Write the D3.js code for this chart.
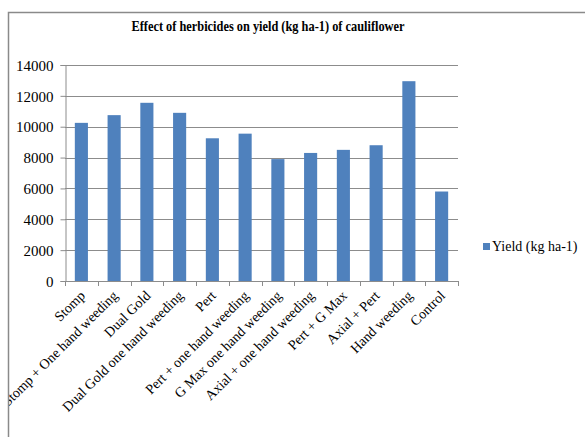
<!DOCTYPE html>
<html>
<head>
<meta charset="utf-8">
<script src="https://cdn.jsdelivr.net/npm/d3@7"></script>
<style>
  html, body { margin: 0; padding: 0; background: #fff; }
  svg { display: block; }
  svg text { font-family: "Liberation Serif", "Times New Roman", serif !important; fill: #000; }
</style>
</head>
<body>
<svg id="chart" width="585" height="437"></svg>
<script>
// Treatments and yield of cauliflower (kg ha-1)
const treatments = [
  "Stomp",
  "Stomp + One hand weeding",
  "Dual Gold",
  "Dual Gold one hand weeding",
  "Pert",
  "Pert + one hand weeding",
  "G Max one hand weeding",
  "Axial + one hand weeding",
  "Pert +  G Max",
  "Axial + Pert",
  "Hand weeding",
  "Control"
];
const yieldValues = [10250, 10750, 11550, 10900, 9250, 9550, 7900, 8300, 8500, 8800, 12950, 5800];
const yTicks = [0, 2000, 4000, 6000, 8000, 10000, 12000, 14000];
const seriesName = "Yield (kg ha-1)";
const chartTitle = "Effect of herbicides on yield (kg ha-1) of cauliflower";

const svg = d3.select("#chart");
const barColor = "#4f81bd";
const axisColor = "#8c8c8c";
const fontSize = 14;

// Chart frame, clipped so long labels stop at its border
svg.append("defs").append("clipPath").attr("id", "frameClip")
  .append("rect").attr("x", 8.5).attr("y", 12.5).attr("width", 600).attr("height", 440);

const root = svg.append("g").attr("clip-path", "url(#frameClip)");

const plot = { left: 65, right: 458, top: 65, bottom: 281 };

const x = d3.scaleBand().domain(treatments).range([plot.left, plot.right]).paddingInner(0.6).paddingOuter(0.3);
const y = d3.scaleLinear().domain([0, 14000]).range([plot.bottom, plot.top]);

// Gridlines
root.append("g")
  .selectAll("line").data(yTicks.filter(d => d > 0)).join("line")
  .attr("x1", plot.left).attr("x2", plot.right)
  .attr("y1", d => Math.round(y(d)) + 0.5).attr("y2", d => Math.round(y(d)) + 0.5)
  .attr("stroke", axisColor).attr("stroke-width", 1);

// Bars
root.append("g")
  .selectAll("rect").data(yieldValues).join("rect")
  .attr("x", (d, i) => x(treatments[i]))
  .attr("width", x.bandwidth())
  .attr("y", d => y(d))
  .attr("height", d => y(0) - y(d))
  .attr("fill", barColor);

// Y axis
const yAxis = d3.axisLeft(y).tickValues(yTicks).tickSize(5).tickPadding(7).tickFormat(d3.format("d"));
const yg = root.append("g").attr("transform", `translate(${plot.left + 0.5},0)`).call(yAxis);
yg.attr("font-size", fontSize).attr("font-family", "Liberation Serif");
yg.select(".domain").attr("stroke", axisColor);
yg.selectAll(".tick line").attr("stroke", axisColor);
yg.selectAll(".tick text")
  .attr("font-size", fontSize)
  .style("font-size", "15px")
  .attr("dy", "0.35em");

// X axis: tick marks sit between categories
const step = x.step();
const boundaries = d3.range(treatments.length + 1).map(i => plot.left + i * step);
const xg = root.append("g");
xg.append("line")
  .attr("x1", plot.left).attr("x2", plot.right)
  .attr("y1", plot.bottom + 0.5).attr("y2", plot.bottom + 0.5)
  .attr("stroke", axisColor);
xg.selectAll("line.tk").data(boundaries).join("line").attr("class", "tk")
  .attr("x1", d => Math.round(d) + 0.5).attr("x2", d => Math.round(d) + 0.5)
  .attr("y1", plot.bottom).attr("y2", plot.bottom + 5)
  .attr("stroke", axisColor);

// Rotated category labels
xg.selectAll("text").data(treatments).join("text")
  .attr("transform", d => `translate(${x(d) + x.bandwidth() / 2 + 1},${plot.bottom + 12}) rotate(-45)`)
  .attr("text-anchor", "end")
  .attr("dy", "0.35em")
  .style("font-size", fontSize + "px")
  .text(d => d);

// Title
root.append("text")
  .attr("x", 268).attr("y", 31)
  .attr("text-anchor", "middle")
  .attr("textLength", 273)
  .attr("lengthAdjust", "spacingAndGlyphs")
  .style("font-size", "14px")
  .style("font-weight", "bold")
  .text(chartTitle);

// Legend
const legend = root.append("g").attr("transform", "translate(483,243)");
legend.append("rect").attr("width", 7).attr("height", 7).attr("fill", barColor);
legend.append("text").attr("x", 9).attr("y", 7.5).style("font-size", fontSize + "px").text(seriesName);

// Frame border
svg.append("path")
  .attr("d", "M8.5,440 V12.5 H590")
  .attr("fill", "none").attr("stroke", "#8a8a8a").attr("stroke-width", 1.5);
</script>
</body>
</html>
